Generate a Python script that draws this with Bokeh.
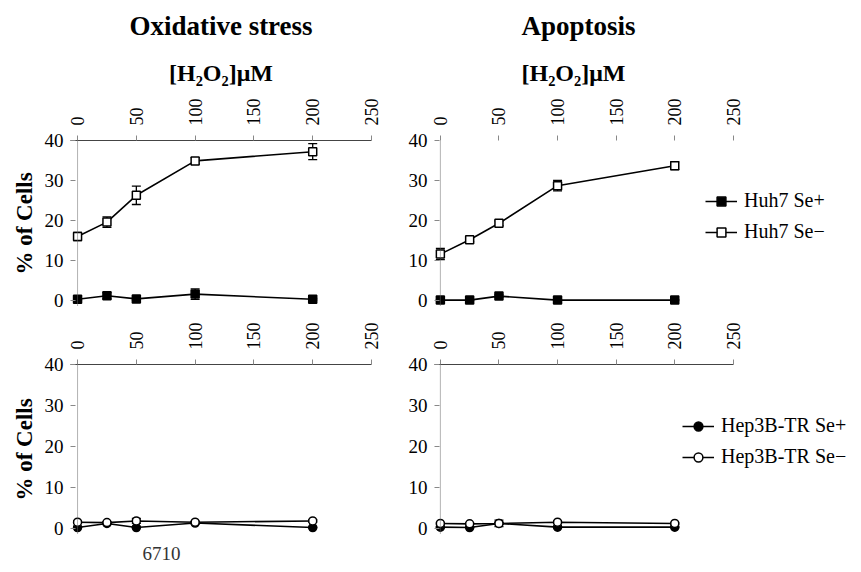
from bokeh.plotting import figure
from bokeh.layouts import column, row
from bokeh.models import (Range1d, FixedTicker, Span, Legend, LegendItem, Title,
                          Whisker, ColumnDataSource, TeeHead)
from bokeh.embed import file_html
from bokeh.resources import INLINE

FONT = "Liberation Serif"

conc = [0, 25, 50, 100, 200]
x_ticks = [0, 50, 100, 150, 200, 250]
y_ticks = [0, 10, 20, 30, 40]

# Oxidative stress, Huh7
ox_huh7_sep = [0.3, 1.2, 0.4, 1.6, 0.3]
ox_huh7_sep_err = [0.3, 0.8, 0.3, 1.3, 0.2]
ox_huh7_sem = [16.0, 19.6, 26.3, 34.9, 37.2]
ox_huh7_sem_err = [1.0, 1.3, 2.3, 0.8, 2.0]
# Apoptosis, Huh7
ap_huh7_sep = [0.1, 0.1, 1.1, 0.1, 0.1]
ap_huh7_sep_err = [0.1, 0.1, 0.3, 0.1, 0.1]
ap_huh7_sem = [11.6, 15.2, 19.3, 28.7, 33.7]
ap_huh7_sem_err = [1.4, 0.5, 0.6, 1.3, 1.0]
# Oxidative stress, Hep3B-TR
ox_hep_sep = [0.2, 1.2, 0.2, 1.3, 0.2]
ox_hep_sep_err = [0.1, 0.2, 0.1, 0.2, 0.1]
ox_hep_sem = [1.5, 1.4, 1.8, 1.5, 1.8]
ox_hep_sem_err = [0.3, 0.2, 0.6, 0.2, 0.3]
# Apoptosis, Hep3B-TR
ap_hep_sep = [0.3, 0.2, 1.2, 0.3, 0.3]
ap_hep_sep_err = [0.1, 0.1, 0.2, 0.1, 0.1]
ap_hep_sem = [1.2, 1.1, 1.2, 1.5, 1.2]
ap_hep_sem_err = [0.2, 0.2, 0.8, 0.3, 0.2]

labels_huh7 = ["Huh7 Se+", "Huh7 Se\u2212"]
labels_hep = ["Hep3B-TR Se+", "Hep3B-TR Se\u2212"]

PPU_RIGHT = 293 / 250.0   # pixels per unit on right panels


def make_panel(width, height, left, right, top, bottom, x_start, x_end, ylabel,
               show_top_line=True, bounded=False):
    p = figure(width=width, height=height, x_range=Range1d(x_start, x_end),
               y_range=Range1d(-1.5, 40), x_axis_location="above",
               output_backend="svg", toolbar_location=None,
               min_border_left=left, min_border_right=right,
               min_border_top=top, min_border_bottom=bottom)
    p.outline_line_color = None
    p.grid.visible = False
    p.background_fill_color = "white"
    p.border_fill_color = "white"

    xa = p.xaxis[0]
    xa.ticker = FixedTicker(ticks=x_ticks)
    if bounded:
        xa.bounds = (x_start, 250)
    xa.major_label_orientation = "vertical"
    xa.major_label_text_font = FONT
    xa.major_label_text_font_size = "18px"
    xa.major_label_text_color = "black"
    xa.major_tick_out = 5
    xa.major_tick_in = 0
    xa.major_tick_line_color = "#888888"
    xa.minor_tick_line_color = None
    xa.major_label_standoff = 10
    xa.axis_line_color = "#444444" if show_top_line else None

    ya = p.yaxis[0]
    ya.ticker = FixedTicker(ticks=y_ticks)
    ya.axis_line_color = None
    ya.major_tick_in = 5
    ya.major_tick_out = 0
    ya.major_tick_line_color = "#888888"
    ya.minor_tick_line_color = None
    ya.major_label_text_font = FONT
    ya.major_label_text_font_size = "19px"
    ya.major_label_text_color = "black"
    ya.major_label_standoff = 7
    if ylabel:
        ya.axis_label = ylabel
        ya.axis_label_text_font = FONT
        ya.axis_label_text_font_style = "bold"
        ya.axis_label_text_font_size = "23px"
        ya.axis_label_text_color = "black"
        ya.axis_label_standoff = 5

    p.add_layout(Span(location=0, dimension="height", line_color="#666666",
                      line_dash="1 1", line_width=1))
    return p


def add_series(p, plus, plus_err, minus, minus_err, marker, labels, loc):
    items = []
    for vals, errs, fill, lab in ((plus, plus_err, "black", labels[0]),
                                  (minus, minus_err, "white", labels[1])):
        src = ColumnDataSource(dict(
            x=conc, y=vals,
            lo=[v - e for v, e in zip(vals, errs)],
            hi=[v + e for v, e in zip(vals, errs)]))
        w = Whisker(source=src, base="x", lower="lo", upper="hi",
                    line_color="black", line_width=1.3, level="underlay",
                    upper_head=TeeHead(size=9, line_color="black", line_width=1.3),
                    lower_head=TeeHead(size=9, line_color="black", line_width=1.3))
        p.add_layout(w)
        lr = p.line("x", "y", source=src, line_color="black", line_width=1.6)
        sr = p.scatter("x", "y", source=src, marker=marker, size=8,
                       fill_color=fill, line_color="black", line_width=1.5)
        items.append(LegendItem(label=lab, renderers=[lr, sr]))
    if loc is not None:
        leg = Legend(items=items, location=loc, border_line_color=None,
                     background_fill_alpha=0, label_text_font=FONT,
                     label_text_font_size="20px", label_text_color="black",
                     glyph_width=32, glyph_height=22, label_height=22,
                     spacing=8, padding=0, margin=0, label_standoff=7)
        p.add_layout(leg)


LW, RW = 388, 471
TH, BH = 312, 260
R_LEFT, R_RIGHT = 46, 5
R_START = -5
R_END = R_START + (RW - R_LEFT - R_RIGHT) / PPU_RIGHT


def add_titles(p, main, align, offset):
    p.add_layout(Title(text="[H\u2082O\u2082]\u03bcM", align=align, offset=offset,
                       text_font=FONT, text_font_size="24px",
                       text_font_style="bold", text_color="black",
                       standoff=20), "above")
    p.add_layout(Title(text=main, align=align, offset=offset, text_font=FONT,
                       text_font_size="27px", text_font_style="bold",
                       text_color="black", standoff=14), "above")


p1 = make_panel(LW, TH, 70, 17, 140, 6, -6, 250, "% of Cells")
add_series(p1, ox_huh7_sep, ox_huh7_sep_err, ox_huh7_sem, ox_huh7_sem_err,
           "square", labels_huh7, None)
add_titles(p1, "Oxidative stress", "center", 0)

p2 = make_panel(RW, TH, R_LEFT, R_RIGHT, 140, 6, R_START, R_END, None,
                show_top_line=False, bounded=True)
add_series(p2, ap_huh7_sep, ap_huh7_sep_err, ap_huh7_sem, ap_huh7_sem_err,
           "square", labels_huh7, (271, 63))
add_titles(p2, "Apoptosis", "left", 87)

p3 = make_panel(LW, BH, 70, 17, 52, 38, -6, 250, "% of Cells")
add_series(p3, ox_hep_sep, ox_hep_sep_err, ox_hep_sem, ox_hep_sem_err,
           "circle", labels_hep, None)
p3.add_layout(Title(text="6710", align="left", offset=72, text_font=FONT,
                    text_font_size="19px", text_font_style="normal",
                    text_color="#333333", standoff=23, vertical_align="middle"),
              "below")

p4 = make_panel(RW, BH, R_LEFT, R_RIGHT, 52, 38, R_START, R_END, None,
                bounded=True)
add_series(p4, ap_hep_sep, ap_hep_sep_err, ap_hep_sem, ap_hep_sem_err,
           "circle", labels_hep, (248, 66))

layout = column(row(p1, p2), row(p3, p4))
open("out.html", "w").write(file_html(layout, INLINE))
